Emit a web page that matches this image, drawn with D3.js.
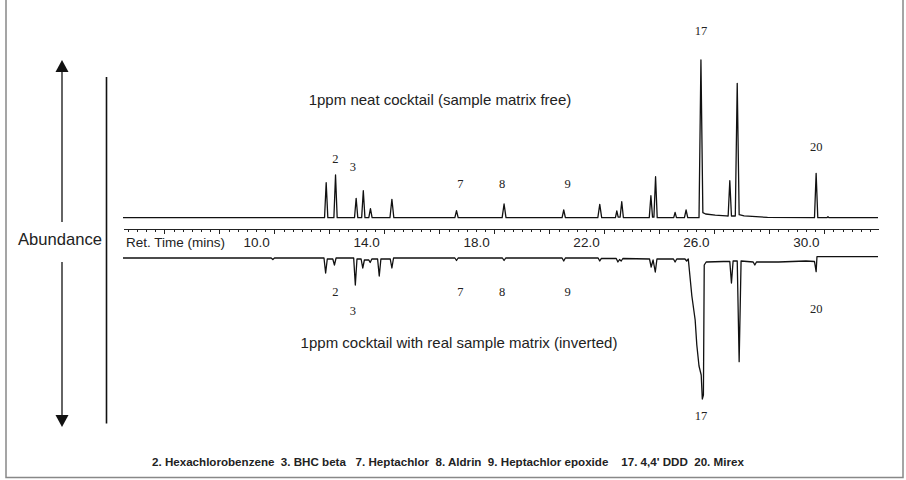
<!DOCTYPE html>
<html>
<head>
<meta charset="utf-8">
<style>
body { margin: 0; background: #fff; }
svg { display: block; font-family: "Liberation Sans", Arial, sans-serif; }
.trace { fill: none; stroke: #111; stroke-width: 1.3; stroke-linejoin: round; }
.axis path, .axis line { stroke: #222; stroke-width: 1; shape-rendering: crispEdges; }
.axis text { font-family: "Liberation Sans", Arial, sans-serif; font-size: 13.5px; fill: #222; }
.peak { font-family: "Liberation Serif", "Times New Roman", serif; font-size: 12.5px; fill: #222; text-anchor: middle; }
.note { font-size: 15px; fill: #222; text-anchor: middle; }
.legend { font-size: 11.6px; font-weight: bold; fill: #222; white-space: pre; }
</style>
</head>
<body>

<svg id="chart" width="906" height="480" viewBox="0 0 906 480"></svg>

<script src="https://d3js.org/d3.v7.min.js"></script>
<script>

// Retention time axis labels (minutes)
var timeLabels = [10.0, 14.0, 18.0, 22.0, 26.0, 30.0];

// Labelled compounds: number, retention time, label abundance above top trace, label depth below lower trace
var compounds = ["2", "3", "7", "8", "9", "17", "20"];
var compoundTimes = [12.88, 13.52, 17.43, 18.95, 21.33, 26.18, 30.37];
var topLabelLevel = [55, 47, 30, 30, 30, 183, 67];
var lowLabelLevel = [38, 57, 38, 38, 38, 162, 55];

// 1ppm neat cocktail: [time, abundance]
var neatTrace = [
    [5.16, 0],
    [12.49, 0], [12.55, 35], [12.61, 0],
    [12.83, 0], [12.89, 42.7], [12.95, 0],
    [13.58, 0], [13.64, 19.4], [13.70, 0],
    [13.84, 0], [13.90, 27], [13.96, 0],
    [14.10, 0], [14.16, 9], [14.22, 0],
    [14.87, 0], [14.94, 18.4], [15.01, 0],
    [17.23, 0], [17.29, 7], [17.35, 0],
    [18.95, 0], [19.02, 13.7], [19.09, 0],
    [21.13, 0], [21.19, 7.7], [21.25, 0],
    [22.43, 0], [22.50, 13.4], [22.57, 0],
    [23.07, 0], [23.12, 6.7], [23.17, 0.5],
    [23.24, 0.5], [23.30, 16], [23.36, 0],
    [24.30, 0], [24.36, 22], [24.42, 0.5],
    [24.47, 0.5], [24.53, 41], [24.59, 0],
    [25.19, 0], [25.24, 5.4], [25.29, 0],
    [25.58, 0], [25.64, 7.7], [25.70, 0],
    [26.11, 0], [26.18, 157.7], [26.25, 5], [26.35, 3.7], [26.7, 2.5], [27.1, 1.8],
    [27.17, 1.7], [27.23, 37], [27.29, 1.7],
    [27.43, 1.7], [27.50, 134.4], [27.57, 3], [27.75, 1.8], [28.6, 0.3],
    [30.31, 0], [30.37, 44.4], [30.43, 0],
    [30.76, 0], [30.80, 1], [30.84, 0],
    [32.62, 0]
];

// 1ppm cocktail with real sample matrix (inverted): [time, abundance]
var matrixTrace = [
    [5.16, 0],
    [10.55, 0], [10.61, 1.5], [10.67, 0],
    [12.47, 0], [12.53, 15], [12.59, 1],
    [12.79, 1], [12.85, 7], [12.91, 0],
    [13.55, 0], [13.61, 27], [13.67, 1],
    [13.82, 1], [13.88, 10], [13.94, 2],
    [14.10, 2], [14.15, 4.5], [14.21, 1],
    [14.42, 1], [14.48, 18], [14.54, 1],
    [14.88, 1], [14.94, 10], [15.00, 0],
    [17.23, 0], [17.29, 2.5], [17.35, 0],
    [18.96, 0], [19.02, 2.5], [19.08, 0],
    [21.13, 0], [21.19, 3], [21.25, 0],
    [22.44, 0], [22.50, 3], [22.56, 0.3],
    [23.10, 0.5], [23.16, 4], [23.22, 1.5], [23.28, 3], [23.34, 0.5],
    [24.31, 1], [24.37, 9], [24.44, 2], [24.52, 14], [24.58, 1],
    [25.18, 1], [25.24, 4], [25.30, 1],
    [25.60, 1], [25.66, 3], [25.72, 1],
    [25.85, 38], [25.97, 62], [26.03, 87], [26.11, 108], [26.19, 117], [26.23, 141], [26.27, 137],
    [26.30, 7], [26.37, 4], [27.0, 3.5],
    [27.23, 3.5], [27.29, 25], [27.35, 3],
    [27.50, 3], [27.57, 103.7], [27.64, 3],
    [28.08, 4], [28.14, 7], [28.20, 4],
    [29.0, 4], [30.0, 3], [30.31, 3.5], [30.37, 13.7], [30.40, -1.3],
    [32.62, -1.3]
];

var legendText = "2. Hexachlorobenzene  3. BHC beta   7. Heptachlor  8. Aldrin  9. Heptachlor epoxide    17. 4,4' DDD  20. Mirex";

var svg = d3.select("#chart");

// Scales
var x = d3.scaleLinear().domain([5.16, 32.62]).range([123, 878]);
var yTop = d3.scaleLinear().domain([0, 160]).range([217.7, 57.7]);
var yLow = d3.scaleLinear().domain([0, 160]).range([258, 418]);
var axisY = 228.5;

// Frame
svg.append("path")
    .attr("d", "M6,0V477.5H903V0")
    .attr("fill", "none")
    .attr("stroke", "#888")
    .attr("stroke-width", 1.5);

// Abundance arrow
var arrowX = 62;
svg.append("line").attr("x1", arrowX).attr("x2", arrowX).attr("y1", 70).attr("y2", 222)
    .attr("stroke", "#111").attr("stroke-width", 1.3);
svg.append("line").attr("x1", arrowX).attr("x2", arrowX).attr("y1", 262).attr("y2", 415)
    .attr("stroke", "#111").attr("stroke-width", 1.3);
svg.append("path").attr("d", "M" + arrowX + ",60l-6.5,12h13z").attr("fill", "#111");
svg.append("path").attr("d", "M" + arrowX + ",427l-6.5,-12h13z").attr("fill", "#111");
svg.append("text")
    .attr("x", 60).attr("y", 245)
    .attr("text-anchor", "middle")
    .attr("font-size", "16.6px")
    .attr("fill", "#222")
    .text("Abundance");

svg.append("line").attr("x1", 106.5).attr("x2", 106.5).attr("y1", 77).attr("y2", 423.5)
    .attr("stroke", "#111").attr("stroke-width", 1.6);

// Axis: minor ticks every 20 s, longer ticks every 2 min
var minorTicks = d3.range(16, 98).map(function(k) { return k / 3; });
var majorTicks = minorTicks.filter(function(t, i) { return (i + 16) % 6 === 2; });

svg.append("g")
    .attr("class", "axis")
    .attr("transform", "translate(0," + axisY + ")")
    .call(d3.axisBottom(x).tickValues(minorTicks).tickSize(3.5).tickSizeOuter(0).tickFormat(""));

svg.append("g")
    .attr("class", "axis")
    .attr("transform", "translate(0," + axisY + ")")
    .call(d3.axisBottom(x).tickValues(majorTicks).tickSize(5).tickSizeOuter(0).tickFormat(""))
    .select(".domain").remove();

var labelAxis = svg.append("g")
    .attr("class", "axis")
    .attr("transform", "translate(0," + axisY + ")")
    .call(d3.axisBottom(x).tickValues(timeLabels).tickSize(0).tickPadding(9).tickFormat(d3.format(".1f")));
labelAxis.select(".domain").remove();

svg.append("text")
    .attr("x", 126).attr("y", 247)
    .attr("font-size", "13.5px")
    .attr("fill", "#222")
    .text("Ret. Time (mins)");

// Traces
var lineTop = d3.line().x(function(d) { return x(d[0]); }).y(function(d) { return yTop(d[1]); });
var lineLow = d3.line().x(function(d) { return x(d[0]); }).y(function(d) { return yLow(d[1]); });

svg.append("path").attr("class", "trace").attr("d", lineTop(neatTrace));
svg.append("path").attr("class", "trace").attr("d", lineLow(matrixTrace));

// Peak numbers
svg.selectAll(".peak-top")
    .data(compounds)
    .enter()
    .append("text")
    .attr("class", "peak")
    .attr("x", function(d, i) { return x(compoundTimes[i]); })
    .attr("y", function(d, i) { return yTop(topLabelLevel[i]); })
    .text(function(d) { return d; });

svg.selectAll(".peak-low")
    .data(compounds)
    .enter()
    .append("text")
    .attr("class", "peak")
    .attr("x", function(d, i) { return x(compoundTimes[i]); })
    .attr("y", function(d, i) { return yLow(lowLabelLevel[i]); })
    .text(function(d) { return d; });

// Trace notes
svg.append("text").attr("class", "note").attr("x", 440).attr("y", 105)
    .text("1ppm neat cocktail (sample matrix free)");
svg.append("text").attr("class", "note").attr("x", 459).attr("y", 348)
    .text("1ppm cocktail with real sample matrix (inverted)");

// Compound legend
svg.append("text").attr("class", "legend").attr("x", 152).attr("y", 466)
    .text(legendText);

</script>
</body>
</html>
